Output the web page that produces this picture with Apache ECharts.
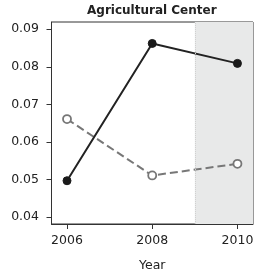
<!DOCTYPE html>
<html>
<head>
<meta charset="utf-8">
<script src="https://cdn.jsdelivr.net/npm/echarts@6/dist/echarts.min.js"></script>
<style>
  html, body { margin: 0; padding: 0; background: #fff; }
  #chart { width: 257px; height: 273px; }
</style>
</head>
<body>
<div id="chart"></div>
<script>
// data
var years = [2006, 2008, 2010];
var solidValues = [0.0497, 0.0862, 0.0809];
var dashedValues = [0.0661, 0.0511, 0.0542];
var xTicks = [2006, 2008, 2010];
var yTicks = [0.04, 0.05, 0.06, 0.07, 0.08, 0.09];
var shadeStart = 2009;

var font = 'DejaVu Sans';
var myChart = echarts.init(document.getElementById('chart'), null, { renderer: 'canvas' });

function pairs(xs, ys) {
	return xs.map(function (x, i) { return [x, ys[i]]; });
}

var option = {
	animation: false,
	title: {
		text: 'Agricultural Center',
		left: 87,
		top: 5,
		padding: 0,
		textStyle: { fontFamily: font, fontWeight: 'bold', fontSize: 12, color: '#222' }
	},
	grid: {
		left: 51.5, right: 4, top: 22, bottom: 49,
		outerBoundsMode: 'none',
		containLabel: false,
		show: true, borderColor: '#333', borderWidth: 1
	},
	xAxis: {
		type: 'value',
		min: 2005.636, max: 2010.365,
		name: 'Year',
		nameLocation: 'middle',
		nameGap: 35,
		nameTextStyle: { fontFamily: font, fontSize: 12.5, color: '#222' },
		axisLine: { show: true, lineStyle: { color: '#333', width: 1 } },
		axisTick: { show: true, customValues: xTicks, length: 5, lineStyle: { color: '#333' } },
		axisLabel: {
			customValues: xTicks,
			fontFamily: font, fontSize: 12.5, color: '#222', margin: 10,
			formatter: function (v) { return String(Math.round(v)); }
		},
		splitLine: { show: false }
	},
	yAxis: {
		type: 'value',
		min: 0.0382, max: 0.0919,
		axisLine: { show: true, lineStyle: { color: '#333', width: 1 } },
		axisTick: { show: true, customValues: yTicks, length: 5, lineStyle: { color: '#333' } },
		axisLabel: {
			customValues: yTicks,
			fontFamily: font, fontSize: 12.5, color: '#222', margin: 12.5,
			formatter: function (v) { return v.toFixed(2); }
		},
		splitLine: { show: false }
	},
	series: [
		{
			name: 'shade',
			type: 'line',
			data: [],
			silent: true,
			markArea: {
				silent: true,
				itemStyle: { color: '#e8e9e9' },
				data: [[{ xAxis: shadeStart }, { xAxis: 2010.365 }]]
			},
			markLine: {
				silent: true,
				symbol: 'none',
				label: { show: false },
				lineStyle: { color: '#d0d0d0', type: 'dotted', width: 1 },
				data: [{ xAxis: shadeStart }]
			}
		},
		{
			name: 'dashed',
			type: 'line',
			data: pairs(years, dashedValues),
			symbol: 'circle',
			symbolSize: 8,
			lineStyle: { color: '#777', width: 2, type: [8, 4] },
			itemStyle: { color: '#fff', borderColor: '#777', borderWidth: 1.8 },
			z: 3
		},
		{
			name: 'solid',
			type: 'line',
			data: pairs(years, solidValues),
			symbol: 'circle',
			symbolSize: 8,
			lineStyle: { color: '#222', width: 2 },
			itemStyle: { color: '#1a1a1a', borderColor: '#1a1a1a', borderWidth: 1 },
			z: 4
		}
	]
};
myChart.setOption(option);
</script>
</body>
</html>
